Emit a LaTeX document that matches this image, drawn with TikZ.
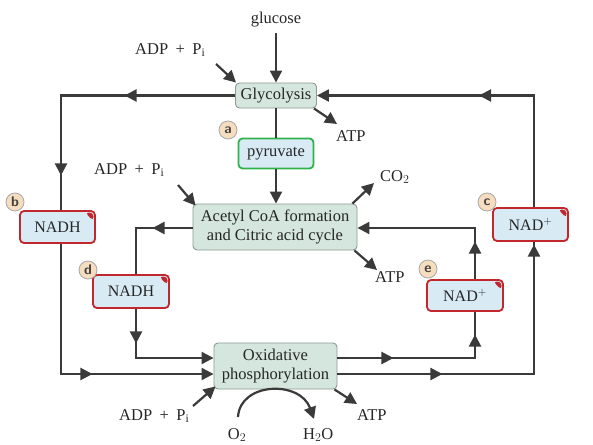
\documentclass[tikz,border=0pt]{standalone}
\usepackage{fontspec}
\setmainfont{Liberation Serif}
\usetikzlibrary{arrows.meta,decorations.markings,calc}
\definecolor{lineC}{HTML}{3A3A3A}
\definecolor{procF}{HTML}{D4E6DD}
\definecolor{procD}{HTML}{8C9A92}
\definecolor{carF}{HTML}{D8EBF5}
\definecolor{carD}{HTML}{C1272D}
\definecolor{pyrD}{HTML}{2DB34A}
\definecolor{circF}{HTML}{F6DDBF}
\definecolor{circD}{HTML}{A8A8A8}
\newcommand{\adppi}{ADP\hspace{0.45em}+\hspace{0.45em}P$_{\mathrm i}$}
\tikzset{
  >={Triangle[length=12pt,width=12pt]},
  txt/.style={font=\fontsize{16.5}{18}\selectfont, inner sep=0pt, text=black!85},
  proc/.style={draw=procD, fill=procF, rounded corners=4pt, line width=0.9pt, align=center, inner sep=0pt, text=black!85, font=\fontsize{16.5}{19}\selectfont},
  carrier/.style={draw=carD, fill=carF, rounded corners=4pt, line width=1.8pt, inner sep=0pt, text=black!85, font=\fontsize{16}{18}\selectfont,
    path picture={\fill[carD] ([xshift=-10pt,yshift=-1.5pt]path picture bounding box.north east) -- ([xshift=-1.5pt,yshift=-1.5pt]path picture bounding box.north east) -- ([xshift=-1.5pt,yshift=-10pt]path picture bounding box.north east) -- cycle;}},
  pyr/.style={draw=pyrD, fill=carF, rounded corners=4pt, line width=1.8pt, inner sep=0pt, text=black!85, font=\fontsize{16.5}{18}\selectfont},
  badge/.style={circle, draw=circD, fill=circF, line width=0.8pt, minimum size=18pt, inner sep=0pt, font=\sffamily\bfseries\fontsize{14}{14}\selectfont, text=black!75},
  flow/.style={line width=2.2pt, color=lineC, ->},
  arr/.style={line width=2.2pt, color=lineC, ->},
}
\begin{document}
\begin{tikzpicture}[x=1pt,y=-1pt]
\useasboundingbox (0,0) rectangle (593,444);
% process boxes
\node[proc, minimum width=81pt, minimum height=25pt] (gly) at (276,95.5) {Glycolysis};
\node[pyr, minimum width=75pt, minimum height=30pt] (pyr) at (276,153.5) {pyruvate};
\node[proc, minimum width=164pt, minimum height=46pt] (ac) at (275,227) {Acetyl CoA formation\\and Citric acid cycle};
\node[proc, minimum width=123pt, minimum height=46pt] (ox) at (275.5,366) {Oxidative\\phosphorylation};
% corners
\coordinate (TL) at (61,95.5);
\coordinate (BL) at (61,374);
\coordinate (TR) at (534,95.5);
\coordinate (BR) at (534,374);
\coordinate (IL1) at (136,228);
\coordinate (IL2) at (136,358);
\coordinate (IR1) at (475,228);
\coordinate (IR2) at (475,358);
% loops
\draw[flow, postaction={decorate}, decoration={markings,
   mark=at position 110.5pt with {\arrow{>}},
   mark=at position 254pt with {\arrow{>}},
   mark=at position 484pt with {\arrow{>}}}]
  (gly.west) -- (TL) -- (BL) -- (BL -| ox.west);
\draw[flow, postaction={decorate}, decoration={markings,
   mark=at position 105pt with {\arrow{>}},
   mark=at position 326pt with {\arrow{>}},
   mark=at position 530pt with {\arrow{>}}}]
  (BR -| ox.east) -- (BR) -- (TR) -- (gly.east);
\draw[flow, postaction={decorate}, decoration={markings,
   mark=at position 40pt with {\arrow{>}},
   mark=at position 172pt with {\arrow{>}}}]
  (IL1 -| ac.west) -- (IL1) -- (IL2) -- (IL2 -| ox.west);
\draw[flow, postaction={decorate}, decoration={markings,
   mark=at position 56pt with {\arrow{>}},
   mark=at position 161pt with {\arrow{>}},
   mark=at position 254pt with {\arrow{>}}}]
  (IR2 -| ox.east) -- (IR2) -- (IR1) -- (IR1 -| ac.east);
% carriers
\node[carrier, minimum width=75pt, minimum height=32pt] (b) at (57.5,227) {NADH};
\node[carrier, minimum width=76pt, minimum height=33pt] (d) at (131,291.5) {NADH};
\node[carrier, minimum width=75pt, minimum height=33pt] (c) at (530.5,224.5) {NAD$^{+}$};
\node[carrier, minimum width=76pt, minimum height=31pt] (e) at (465,295.5) {NAD$^{+}$};
% badges
\node[badge] (ba) at (228,130) {a};
\node[badge] (bb) at (15,202) {b};
\node[badge] (bc) at (487,202) {c};
\node[badge] (bd) at (88,270) {d};
\node[badge] (be) at (428,269) {e};
% glycolysis inputs and outputs
\node[txt] (glc) at (276,20) {glucose};
\coordinate (glcs) at (276,33);
\draw[arr] (glcs) -- (gly.north);
\node[txt, anchor=west] (adp1) at (135,50) {\adppi};
\coordinate (adp1s) at (216,64);
\draw[arr] (adp1s) -- ([xshift=1pt]gly.north west);
\node[txt, anchor=west] (atp1) at (336,136) {ATP};
\coordinate (atp1e) at (337,124);
\draw[arr] ([xshift=-3pt]gly.south east) -- (atp1e);
\draw[line width=2.2pt, color=lineC] (gly.south) -- (pyr.north);
\draw[arr] (pyr.south) -- (pyr.south |- ac.north);
% acetyl inputs and outputs
\node[txt, anchor=west] (adp2) at (94,170) {\adppi};
\coordinate (adp2s) at (178,185);
\draw[arr] (adp2s) -- ([xshift=3pt,yshift=-2pt]ac.north west);
\node[txt, anchor=west] (co2) at (380,177) {CO$_2$};
\coordinate (co2e) at (374,183);
\draw[arr] ([xshift=-5pt]ac.north east) -- (co2e);
\node[txt, anchor=west] (atp2) at (375,277) {ATP};
\coordinate (atp2e) at (377,270);
\draw[arr] ([xshift=-3pt]ac.south east) -- (atp2e);
% oxidative inputs and outputs
\node[txt, anchor=west] (adp3) at (119,416) {\adppi};
\coordinate (adp3s) at (193,406);
\draw[arr] (adp3s) -- ([xshift=2pt,yshift=3pt]ox.south west);
\node[txt, anchor=west] (atp3) at (357,415) {ATP};
\coordinate (atp3e) at (357,404);
\draw[arr] ([xshift=-3pt]ox.south east) -- (atp3e);
\node[txt] (o2) at (237,435) {O$_2$};
\node[txt, anchor=west] (h2o) at (303,435) {H$_2$O};
\coordinate (o2s) at (238,417);
\coordinate (h2oe) at (314,419);
\draw[arr] (o2s) .. controls (240,382) and (300,380) .. (h2oe);
\end{tikzpicture}
\end{document}
